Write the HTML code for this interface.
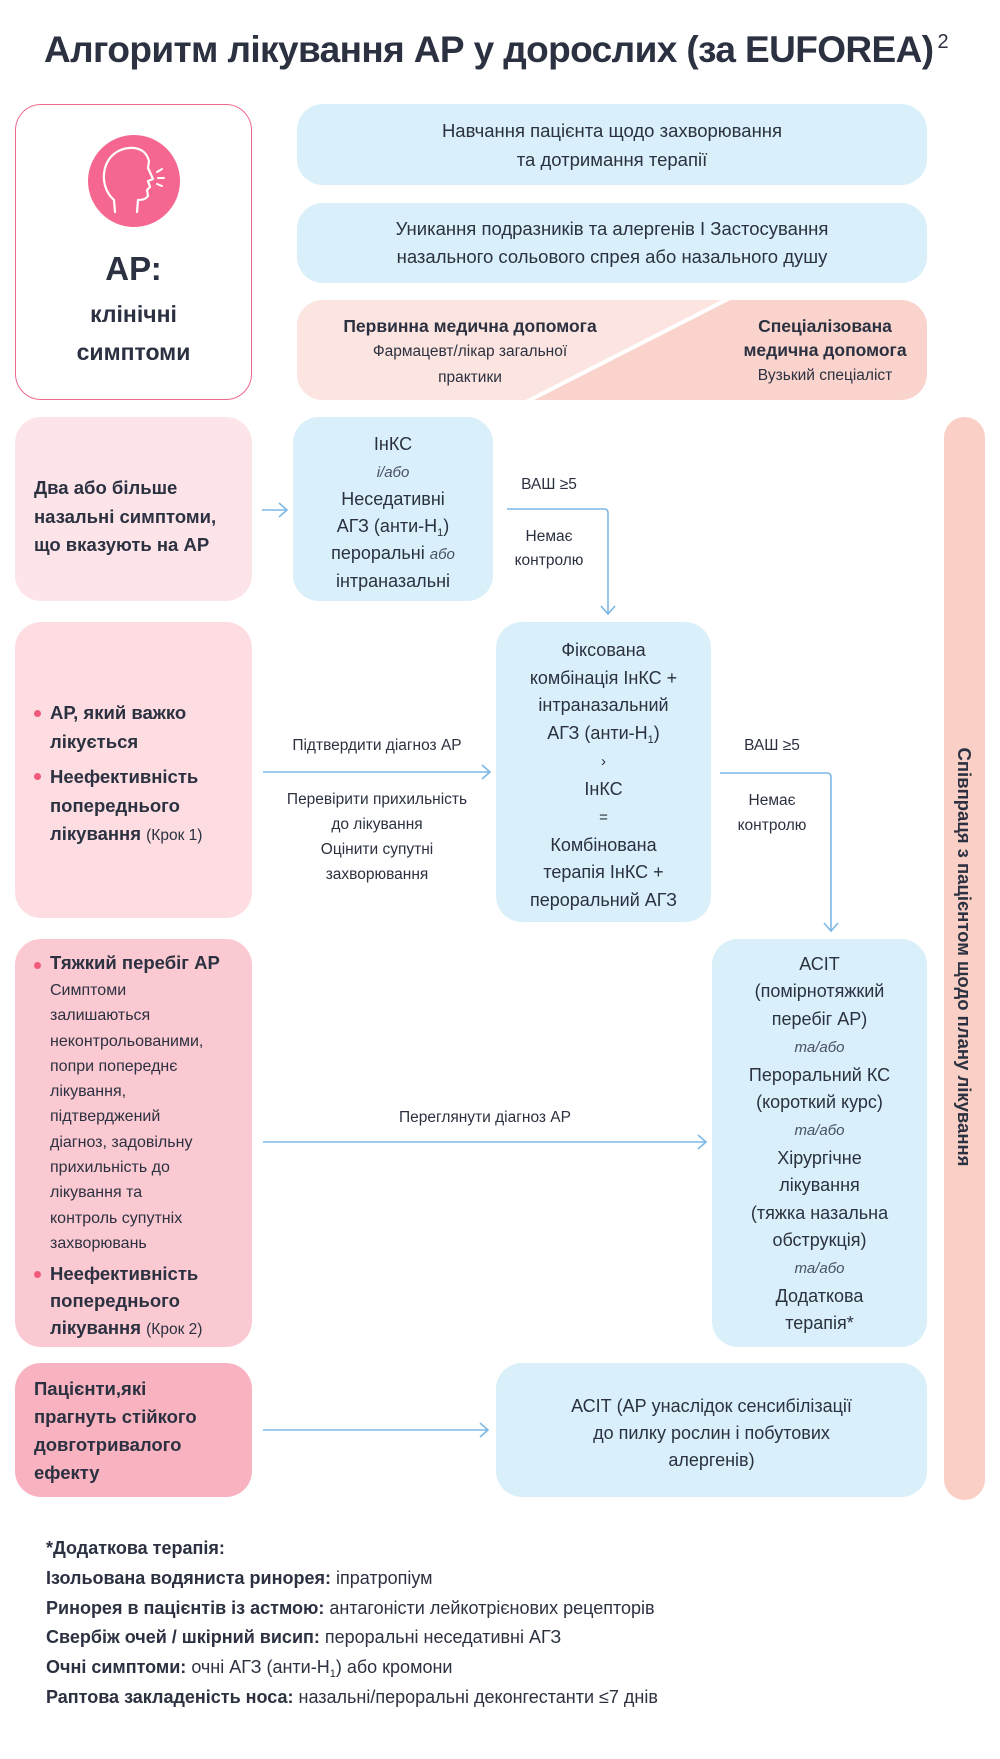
<!DOCTYPE html>
<html><head><meta charset="utf-8"><style>
*{margin:0;padding:0;box-sizing:border-box}
body{width:1000px;height:1759px;background:#fff;position:relative;font-family:"Liberation Sans",sans-serif;color:#2b3140;overflow:hidden}
.a{position:absolute}
.box{position:absolute;border-radius:26px}
.blue{background:#d9eff9}
.c{text-align:center}
.l{white-space:nowrap}
b{font-weight:bold}
i{font-style:italic}
.sm{font-size:15px;font-style:italic;color:#4a5060}
.lbl{position:absolute;font-size:15.5px;text-align:center;white-space:nowrap;line-height:26px}
.dot{display:inline-block;width:7px;height:7px;border-radius:50%;background:#ef5a7a;position:absolute;left:19px}
.sb{font-size:11px;line-height:0;position:relative;top:4px}
</style></head><body>

<div class="a l" style="left:44px;top:29px;font-size:37px;font-weight:bold;letter-spacing:-0.6px;color:#2b3140">Алгоритм лікування АР у дорослих (за EUFOREA)<span style="font-size:20px;vertical-align:14px;font-weight:normal;margin-left:4px">2</span></div>

<!-- AR box -->
<div class="box" style="left:15px;top:104px;width:237px;height:296px;border:1.5px solid #ef6a8a;background:#fff"></div>
<svg class="a" style="left:87px;top:134px" width="94" height="94" viewBox="0 0 94 94">
<circle cx="47" cy="47" r="46" fill="#f56790"/>
<path d="M28 78 L27 66 C18 58 15 46 18 34 C22 20 34 13 47 14 C56 15 60 20 62 27 L61 34 L66 45 L61 47 L63 53 L60 56 L61 62 C58 66 54 66 51 66 L50 78" fill="none" stroke="#fff" stroke-width="2.2" stroke-linecap="round" stroke-linejoin="round"/>
<path d="M70 38 L75 35 M71 44 L77 44 M70 50 L75 52" stroke="#fff" stroke-width="2" stroke-linecap="round"/>
</svg>
<div class="a c" style="left:15px;top:250px;width:237px;font-size:33px;font-weight:bold">АР:</div>
<div class="a c" style="left:15px;top:295px;width:237px;font-size:23px;font-weight:bold;line-height:38px">клінічні<br>симптоми</div>

<div class="box blue c" style="left:297px;top:104px;width:630px;height:81px;font-size:18.5px;line-height:29px;padding-top:12px">Навчання пацієнта щодо захворювання<br>та дотримання терапії</div>
<div class="box blue c" style="left:297px;top:203px;width:630px;height:80px;font-size:18.5px;line-height:28px;padding-top:12px">Уникання подразників та алергенів І Застосування<br>назального сольового спрея або назального душу</div>

<svg class="a" style="left:297px;top:300px" width="630" height="100">
<defs><clipPath id="cp"><rect width="630" height="100" rx="26"/></clipPath></defs>
<g clip-path="url(#cp)">
<rect width="630" height="100" fill="#f9d3cc"/>
<polygon points="0,0 431,0 229,100 0,100" fill="#fce4e0"/>
<line x1="433" y1="-2" x2="229" y2="102" stroke="#fff" stroke-width="4"/>
</g></svg>
<div class="a c l" style="left:300px;top:314px;width:340px;font-size:17.5px;line-height:24px"><b>Первинна медична допомога</b><br><span style="font-size:15.5px">Фармацевт/лікар загальної<br>практики</span></div>
<div class="a c l" style="left:725px;top:314px;width:200px;font-size:17.5px;line-height:24px"><b>Спеціалізована<br>медична допомога</b><br><span style="font-size:15.5px">Вузький спеціаліст</span></div>

<!-- row1 -->
<div class="box" style="left:15px;top:417px;width:237px;height:184px;background:#fde4e8;font-size:18.5px;line-height:28.5px;padding:57px 0 0 19px;font-weight:bold;white-space:nowrap">Два або більше<br>назальні симптоми,<br>що вказують на АР</div>
<div class="box blue c" style="left:293px;top:417px;width:200px;height:184px;font-size:18px;line-height:27px;padding-top:14px">ІнКС<br><span class="sm">і/або</span><br>Неседативні<br>АГЗ (анти-Н<span class="sb">1</span>)<br>пероральні <span class="sm">або</span><br>інтраназальні</div>
<div class="lbl" style="left:505px;top:472px;width:88px">ВАШ ≥5</div>
<div class="lbl" style="left:505px;top:525px;width:88px;line-height:24px">Немає<br>контролю</div>

<!-- row2 -->
<div class="box" style="left:15px;top:622px;width:237px;height:296px;background:#fddde2;font-size:18.5px;font-weight:bold;white-space:nowrap">
<span class="dot" style="top:88px"></span>
<div class="a" style="left:35px;top:76px;line-height:29px">АР, який важко<br>лікується</div>
<span class="dot" style="top:151px"></span>
<div class="a" style="left:35px;top:141px;line-height:28.5px">Неефективність<br>попереднього<br>лікування <span style="font-weight:normal;font-size:15.5px">(Крок 1)</span></div>
</div>
<div class="lbl" style="left:258px;top:733px;width:238px">Підтвердити діагноз АР</div>
<div class="lbl" style="left:258px;top:787px;width:238px;line-height:25px">Перевірити прихильність<br>до лікування<br>Оцінити супутні<br>захворювання</div>
<div class="box blue c" style="left:496px;top:622px;width:215px;height:300px;font-size:18px;line-height:27.5px;padding-top:15px">Фіксована<br>комбінація ІнКС +<br>інтраназальний<br>АГЗ (анти-Н<span class="sb">1</span>)<br><span style="font-size:15px">›</span><br>ІнКС<br><span style="font-size:15px">=</span><br>Комбінована<br>терапія ІнКС +<br>пероральний АГЗ</div>
<div class="lbl" style="left:728px;top:733px;width:88px">ВАШ ≥5</div>
<div class="lbl" style="left:728px;top:788px;width:88px;line-height:25px">Немає<br>контролю</div>

<!-- row3 -->
<div class="box" style="left:15px;top:939px;width:237px;height:408px;background:#fbc9d2;white-space:nowrap">
<span class="dot" style="top:23px"></span>
<div class="a" style="left:35px;top:13px;font-size:18.5px;font-weight:bold">Тяжкий перебіг АР</div>
<div class="a" style="left:35px;top:39px;font-size:16px;line-height:25.3px">Симптоми<br>залишаються<br>неконтрольованими,<br>попри попереднє<br>лікування,<br>підтверджений<br>діагноз, задовільну<br>прихильність до<br>лікування та<br>контроль супутніх<br>захворювань</div>
<span class="dot" style="top:332px"></span>
<div class="a" style="left:35px;top:321px;font-size:18.5px;font-weight:bold;line-height:27px">Неефективність<br>попереднього<br>лікування <span style="font-weight:normal;font-size:15.5px">(Крок 2)</span></div>
</div>
<div class="lbl" style="left:385px;top:1105px;width:200px">Переглянути діагноз АР</div>
<div class="box blue c" style="left:712px;top:939px;width:215px;height:408px;font-size:18px;line-height:27.4px;padding-top:12px">АСІТ<br>(помірнотяжкий<br>перебіг АР)<br><span class="sm">та/або</span><br>Пероральний КС<br>(короткий курс)<br><span class="sm">та/або</span><br>Хірургічне<br>лікування<br>(тяжка назальна<br>обструкція)<br><span class="sm">та/або</span><br>Додаткова<br>терапія*</div>

<!-- row4 -->
<div class="box" style="left:15px;top:1363px;width:237px;height:134px;background:#f9b3c0;font-size:18.5px;line-height:28px;padding:12px 0 0 19px;font-weight:bold;white-space:nowrap">Пацієнти,які<br>прагнуть стійкого<br>довготривалого<br>ефекту</div>
<div class="box blue c" style="left:496px;top:1363px;width:431px;height:134px;font-size:18px;line-height:27px;padding-top:30px">АСІТ (АР унаслідок сенсибілізації<br>до пилку рослин і побутових<br>алергенів)</div>

<!-- right bar -->
<div class="box" style="left:944px;top:417px;width:41px;height:1083px;background:#f9cfc6;border-radius:21px"></div>
<div class="a l" style="left:964px;top:957px;transform:translate(-50%,-50%) rotate(90deg);font-size:18.5px;font-weight:bold">Співпраця з пацієнтом щодо плану лікування</div>

<!-- connectors -->
<svg class="a" style="left:0;top:0" width="1000" height="1759" fill="none" stroke="#7db9e6" stroke-width="1.6">
<path d="M262 510 H286 M279 503 L287 510 L279 517"/>
<path d="M507 509 H604 Q608 509 608 513 V613 M601 606 L608 614 L615 606"/>
<path d="M263 772 H489 M482 765 L490 772 L482 779"/>
<path d="M720 773 H827 Q831 773 831 777 V930 M824 923 L831 931 L838 923"/>
<path d="M263 1142 H705 M698 1135 L706 1142 L698 1149"/>
<path d="M263 1430 H487 M480 1423 L488 1430 L480 1437"/>
</svg>

<!-- footer -->
<div class="a l" style="left:46px;top:1534px;font-size:18px;line-height:29.8px"><b>*Додаткова терапія:</b><br><b>Ізольована водяниста ринорея:</b> іпратропіум<br><b>Ринорея в пацієнтів із астмою:</b> антагоністи лейкотрієнових рецепторів<br><b>Свербіж очей / шкірний висип:</b> пероральні неседативні АГЗ<br><b>Очні симптоми:</b> очні АГЗ (анти-Н<span class="sb">1</span>) або кромони<br><b>Раптова закладеність носа:</b> назальні/пероральні деконгестанти ≤7 днів</div>
</body></html>
